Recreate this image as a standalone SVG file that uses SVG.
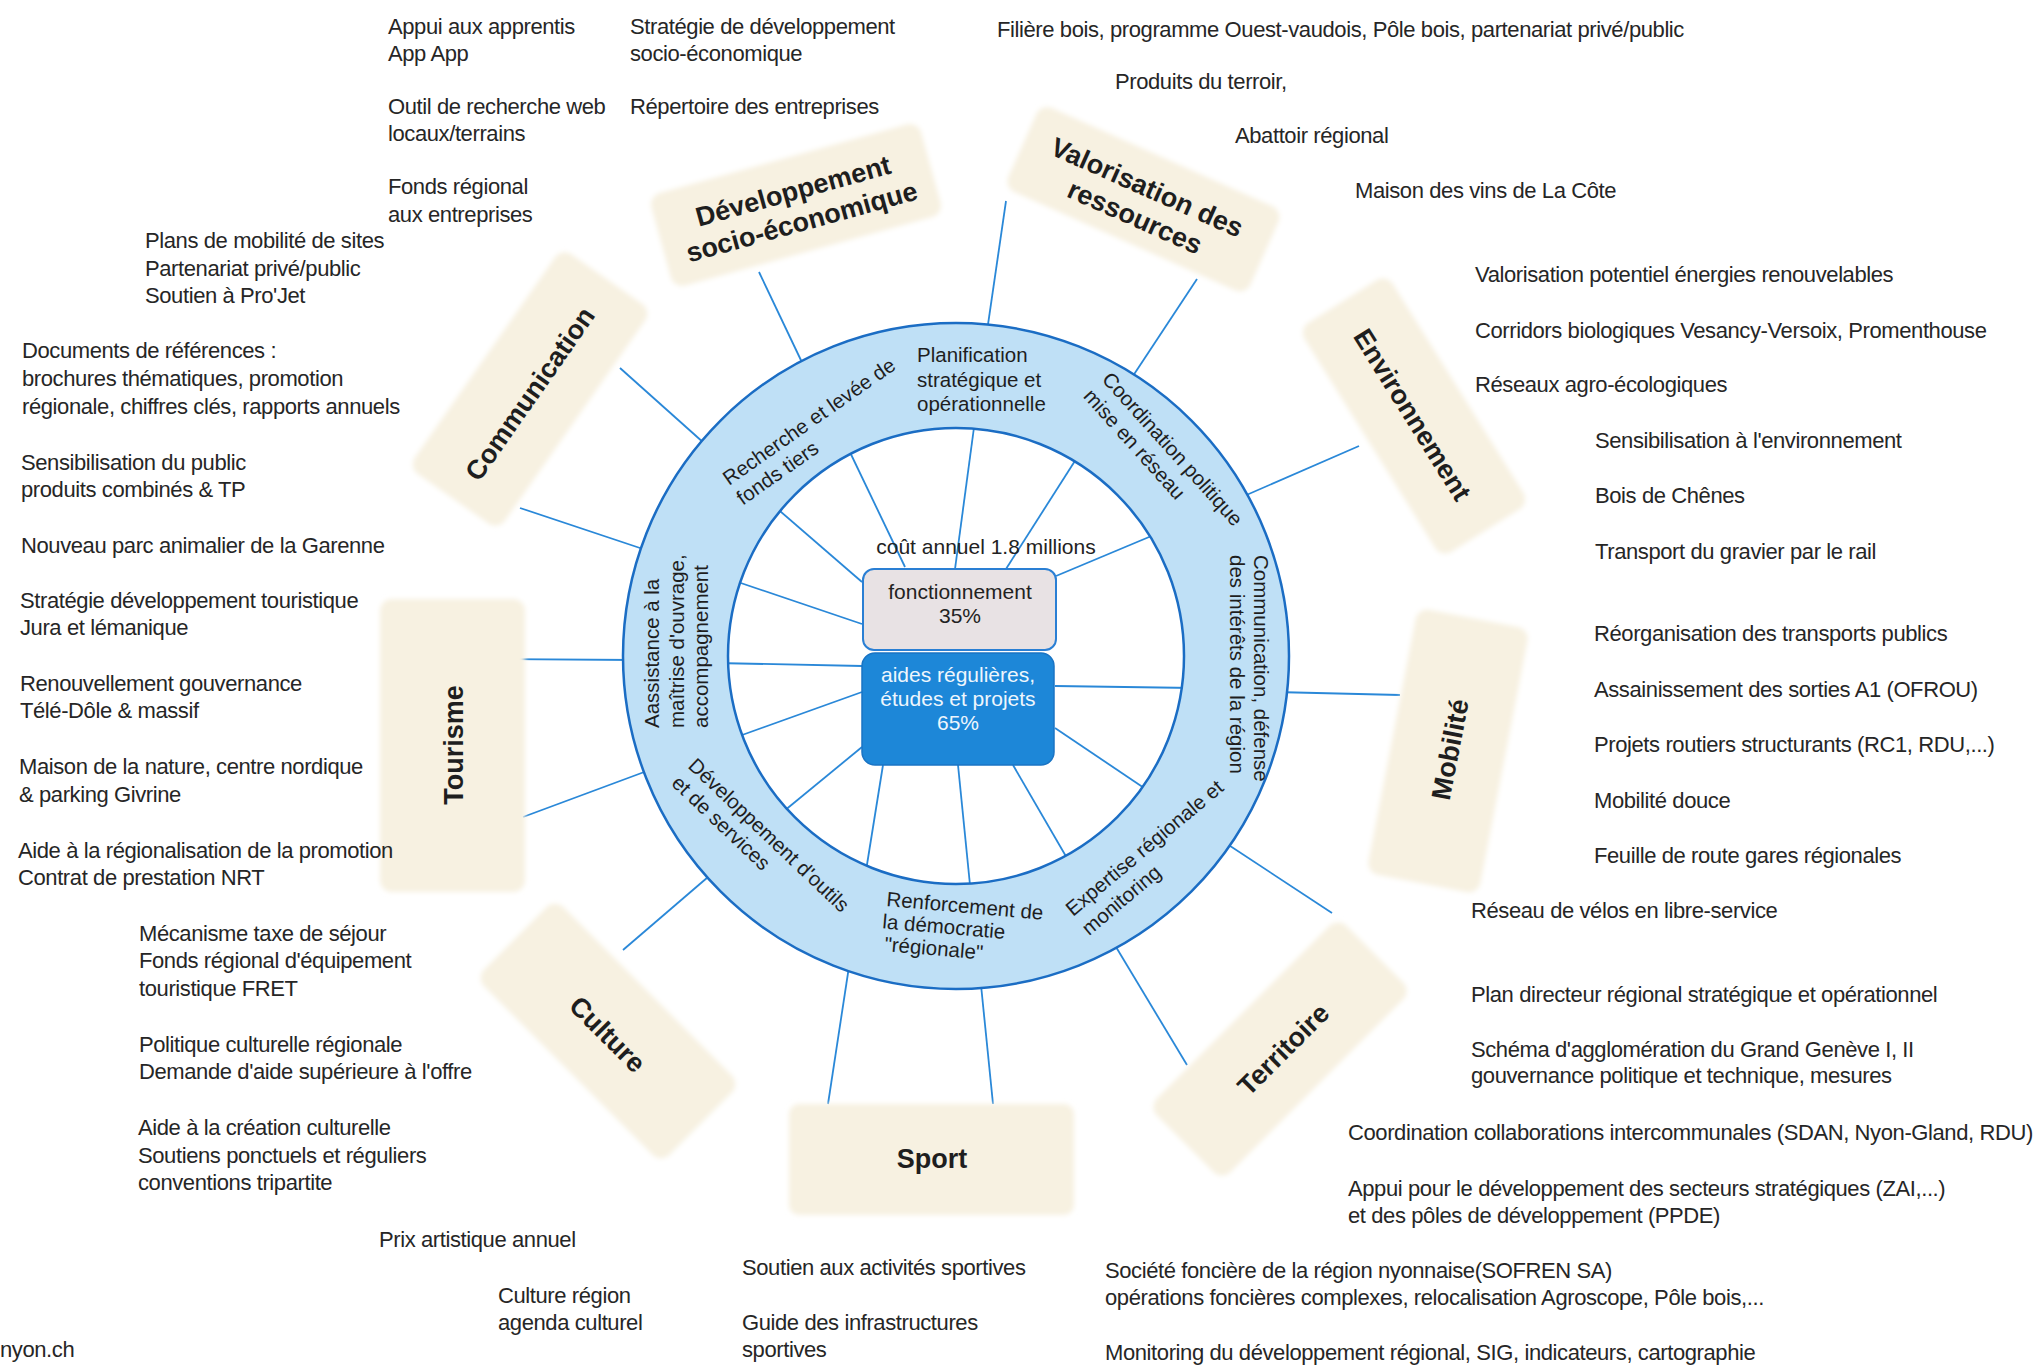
<svg xmlns="http://www.w3.org/2000/svg" width="2037" height="1366" viewBox="0 0 2037 1366">
<defs>
<style>
.t{font-family:"Liberation Sans",Arial,sans-serif;font-size:22px;letter-spacing:-0.4px;fill:#262626}
.r{font-family:"Liberation Sans",Arial,sans-serif;font-size:20.5px;fill:#1e1e1e}
.c{font-family:"Liberation Sans",Arial,sans-serif;font-size:27px;font-weight:bold;fill:#1e1e1e;text-anchor:middle}
.b{font-family:"Liberation Sans",Arial,sans-serif;font-size:21px;text-anchor:middle}
.ln{stroke:#2a88d8;stroke-width:1.8;fill:none}
.cat{fill:#f7f1e1;filter:url(#soft)}
</style>
<filter id="soft" x="-10%" y="-10%" width="120%" height="120%"><feGaussianBlur stdDeviation="2.5"/></filter>
</defs>
<rect width="2037" height="1366" fill="#ffffff"/>

<g id="connectors" class="ln">
<line x1="759" y1="272" x2="808" y2="375"/>
<line x1="1006" y1="201" x2="985" y2="345"/>
<line x1="1197" y1="279" x2="1125" y2="388"/>
<line x1="1359" y1="446" x2="1235" y2="500"/>
<line x1="1400" y1="695" x2="1275" y2="692"/>
<line x1="1332" y1="913" x2="1218" y2="838"/>
<line x1="1187" y1="1065" x2="1110" y2="937"/>
<line x1="828" y1="1104" x2="850" y2="960"/>
<line x1="993" y1="1104" x2="980" y2="975"/>
<line x1="623" y1="950" x2="715" y2="871"/>
<line x1="523" y1="817" x2="655" y2="768"/>
<line x1="500" y1="659" x2="635" y2="660"/>
<line x1="520" y1="508" x2="652" y2="552"/>
<line x1="620" y1="368" x2="714" y2="452"/>
<line x1="847" y1="446" x2="905" y2="567"/>
<line x1="975" y1="420" x2="955" y2="569"/>
<line x1="1080" y1="453" x2="1006" y2="569"/>
<line x1="1161" y1="532" x2="1056" y2="576"/>
<line x1="773" y1="505" x2="862" y2="582"/>
<line x1="729" y1="579" x2="862" y2="624"/>
<line x1="715" y1="663" x2="862" y2="666"/>
<line x1="731" y1="739" x2="862" y2="692"/>
<line x1="778" y1="816" x2="862" y2="747"/>
<line x1="865" y1="877" x2="883" y2="765"/>
<line x1="971" y1="895" x2="958" y2="765"/>
<line x1="1071" y1="865" x2="1013" y2="765"/>
<line x1="1153" y1="794" x2="1055" y2="728"/>
<line x1="1194" y1="688" x2="1055" y2="686"/>
</g>

<g id="ring">
<path d="M623,656 a333,333 0 1,0 666,0 a333,333 0 1,0 -666,0 Z M728,656 a228,228 0 1,0 456,0 a228,228 0 1,0 -456,0 Z" fill="#bfe0f6" fill-rule="evenodd" stroke="#1b6dc4" stroke-width="2.5"/>
</g>

<g id="ring-planification"><text class="r"><tspan x="917" y="362">Planification</tspan><tspan x="917" y="387">stratégique et</tspan><tspan x="917" y="411">opérationnelle</tspan></text></g>
<g id="ring-recherche" transform="translate(729,486) rotate(-35)"><text class="r"><tspan x="0" y="0">Recherche et levée de</tspan><tspan x="0" y="24">fonds tiers</tspan></text></g>
<g id="ring-coordination" transform="translate(1101,380) rotate(48)"><text class="r"><tspan x="0" y="0">Coordination politique</tspan><tspan x="0" y="25">mise en réseau</tspan></text></g>
<g id="ring-communication" transform="translate(1254,555) rotate(90)"><text class="r"><tspan x="0" y="0">Communication, défense</tspan><tspan x="0" y="24">des intérêts de la région</tspan></text></g>
<g id="ring-expertise" transform="translate(1073,917) rotate(-40)"><text class="r"><tspan x="0" y="0">Expertise régionale et</tspan><tspan x="0" y="25">monitoring</tspan></text></g>
<g id="ring-renforcement" transform="translate(886,906) rotate(5)"><text class="r"><tspan x="0" y="0">Renforcement de</tspan><tspan x="-2" y="22.5">la démocratie</tspan><tspan x="2" y="45">"régionale"</tspan></text></g>
<g id="ring-outils" transform="translate(687,767) rotate(43.5)"><text class="r"><tspan x="0" y="0">Développement d'outils</tspan><tspan x="0" y="24">et de services</tspan></text></g>
<g id="ring-assistance" transform="translate(659,728) rotate(-90)"><text class="r"><tspan x="0" y="0">Aassistance à la</tspan><tspan x="0" y="24.5">maîtrise d'ouvrage,</tspan><tspan x="0" y="49">accompagnement</tspan></text></g>

<g id="cout"><text class="b" x="986" y="554" fill="#222">coût annuel 1.8 millions</text></g>
<g id="fonctionnement">
<rect x="863" y="569" width="193" height="81" rx="11" fill="#e8e2e4" stroke="#2a7fd4" stroke-width="2"/>
<text class="b" fill="#222"><tspan x="960" y="599">fonctionnement</tspan><tspan x="960" y="623">35%</tspan></text>
</g>
<g id="aides">
<rect x="862" y="653" width="192" height="112" rx="13" fill="#1d87d8" stroke="#1a74c4" stroke-width="1.5"/>
<text class="b" fill="#eef6fd"><tspan x="958" y="682">aides régulières,</tspan><tspan x="958" y="706">études et projets</tspan><tspan x="958" y="730">65%</tspan></text>
</g>

<g id="cat-developpement" transform="translate(796,205) rotate(-15.5)">
<rect class="cat" x="-140" y="-48" width="280" height="96" rx="12"/>
<text class="c"><tspan x="1" y="-5">Développement</tspan><tspan x="1" y="27">socio-économique</tspan></text>
</g>
<g id="cat-valorisation" transform="translate(1143,199) rotate(24)">
<rect class="cat" x="-132" y="-46" width="265" height="92" rx="12"/>
<text class="c"><tspan x="-1" y="-3">Valorisation des</tspan><tspan x="0" y="29">ressources</tspan></text>
</g>
<g id="cat-environnement" transform="translate(1414,416) rotate(58)">
<rect class="cat" x="-135" y="-52" width="270" height="104" rx="12"/>
<text class="c" x="-2" y="10">Environnement</text>
</g>
<g id="cat-mobilite" transform="translate(1448,751) rotate(-79)">
<rect class="cat" x="-135" y="-57" width="270" height="114" rx="12"/>
<text class="c" x="2" y="11">Mobilité</text>
</g>
<g id="cat-territoire" transform="translate(1280,1049) rotate(-45)">
<rect class="cat" x="-134" y="-52" width="268" height="104" rx="12"/>
<text class="c" x="2" y="12">Territoire</text>
</g>
<g id="cat-sport">
<rect class="cat" x="789" y="1104" width="285" height="111" rx="10"/>
<text class="c" x="932" y="1168">Sport</text>
</g>
<g id="cat-culture" transform="translate(608,1031) rotate(45)">
<rect class="cat" x="-131" y="-56" width="262" height="112" rx="12"/>
<text class="c" x="2" y="12">Culture</text>
</g>
<g id="cat-tourisme" transform="translate(452,746) rotate(-90)">
<rect class="cat" x="-146" y="-72" width="293" height="145" rx="12"/>
<text class="c" x="1" y="11">Tourisme</text>
</g>
<g id="cat-communication" transform="translate(530,389) rotate(-55)">
<rect class="cat" x="-134" y="-55" width="268" height="110" rx="12"/>
<text class="c" x="-4" y="12">Communication</text>
</g>

<g id="items-developpement" class="t">
<text x="388" y="34">Appui aux apprentis</text>
<text x="388" y="61">App App</text>
<text x="388" y="114">Outil de recherche web</text>
<text x="388" y="141">locaux/terrains</text>
<text x="388" y="194">Fonds régional</text>
<text x="388" y="222">aux entreprises</text>
<text x="630" y="34">Stratégie de développement</text>
<text x="630" y="61">socio-économique</text>
<text x="630" y="114">Répertoire des entreprises</text>
<text x="145" y="248">Plans de mobilité de sites</text>
<text x="145" y="276">Partenariat privé/public</text>
<text x="145" y="303">Soutien à Pro'Jet</text>
</g>
<g id="items-communication" class="t">
<text x="22" y="358">Documents de références :</text>
<text x="22" y="386">brochures thématiques, promotion</text>
<text x="22" y="414">régionale, chiffres clés, rapports annuels</text>
<text x="21" y="470">Sensibilisation du public</text>
<text x="21" y="497">produits combinés &amp; TP</text>
</g>
<g id="items-tourisme" class="t">
<text x="21" y="553">Nouveau parc animalier de la Garenne</text>
<text x="20" y="608">Stratégie développement touristique</text>
<text x="20" y="635">Jura et lémanique</text>
<text x="20" y="691">Renouvellement gouvernance</text>
<text x="20" y="718">Télé-Dôle &amp; massif</text>
<text x="19" y="774">Maison de la nature, centre nordique</text>
<text x="19" y="802">&amp; parking Givrine</text>
<text x="18" y="858">Aide à la régionalisation de la promotion</text>
<text x="18" y="885">Contrat de prestation NRT</text>
<text x="139" y="941">Mécanisme taxe de séjour</text>
<text x="139" y="968">Fonds régional d'équipement</text>
<text x="139" y="996">touristique FRET</text>
</g>
<g id="items-culture" class="t">
<text x="139" y="1052">Politique culturelle régionale</text>
<text x="139" y="1079">Demande d'aide supérieure à l'offre</text>
<text x="138" y="1135">Aide à la création culturelle</text>
<text x="138" y="1163">Soutiens ponctuels et réguliers</text>
<text x="138" y="1190">conventions tripartite</text>
<text x="379" y="1247">Prix artistique annuel</text>
<text x="498" y="1303">Culture région</text>
<text x="498" y="1330">agenda culturel</text>
</g>
<g id="items-sport" class="t">
<text x="742" y="1275">Soutien aux activités sportives</text>
<text x="742" y="1330">Guide des infrastructures</text>
<text x="742" y="1357">sportives</text>
</g>
<g id="footer" class="t"><text x="0" y="1357">nyon.ch</text></g>
<g id="items-valorisation" class="t">
<text x="997" y="37">Filière bois, programme Ouest-vaudois, Pôle bois, partenariat privé/public</text>
<text x="1115" y="89">Produits du terroir,</text>
<text x="1235" y="143">Abattoir régional</text>
<text x="1355" y="198">Maison des vins de La Côte</text>
</g>
<g id="items-environnement" class="t">
<text x="1475" y="282">Valorisation potentiel énergies renouvelables</text>
<text x="1475" y="338">Corridors biologiques Vesancy-Versoix, Promenthouse</text>
<text x="1475" y="392">Réseaux agro-écologiques</text>
<text x="1595" y="448">Sensibilisation à l'environnement</text>
<text x="1595" y="503">Bois de Chênes</text>
<text x="1595" y="559">Transport du gravier par le rail</text>
</g>
<g id="items-mobilite" class="t">
<text x="1594" y="641">Réorganisation des transports publics</text>
<text x="1594" y="697">Assainissement des sorties A1 (OFROU)</text>
<text x="1594" y="752">Projets routiers structurants (RC1, RDU,...)</text>
<text x="1594" y="808">Mobilité douce</text>
<text x="1594" y="863">Feuille de route gares régionales</text>
<text x="1471" y="918">Réseau de vélos en libre-service</text>
</g>
<g id="items-territoire" class="t">
<text x="1471" y="1002">Plan directeur régional stratégique et opérationnel</text>
<text x="1471" y="1057">Schéma d'agglomération du Grand Genève I, II</text>
<text x="1471" y="1083">gouvernance politique et technique, mesures</text>
<text x="1348" y="1140">Coordination collaborations intercommunales (SDAN, Nyon-Gland, RDU)</text>
<text x="1348" y="1196">Appui pour le développement des secteurs stratégiques (ZAI,...)</text>
<text x="1348" y="1223">et des pôles de développement (PPDE)</text>
<text x="1105" y="1278">Société foncière de la région nyonnaise(SOFREN SA)</text>
<text x="1105" y="1305">opérations foncières complexes, relocalisation Agroscope, Pôle bois,...</text>
<text x="1105" y="1360">Monitoring du développement régional, SIG, indicateurs, cartographie</text>
</g>
</svg>
